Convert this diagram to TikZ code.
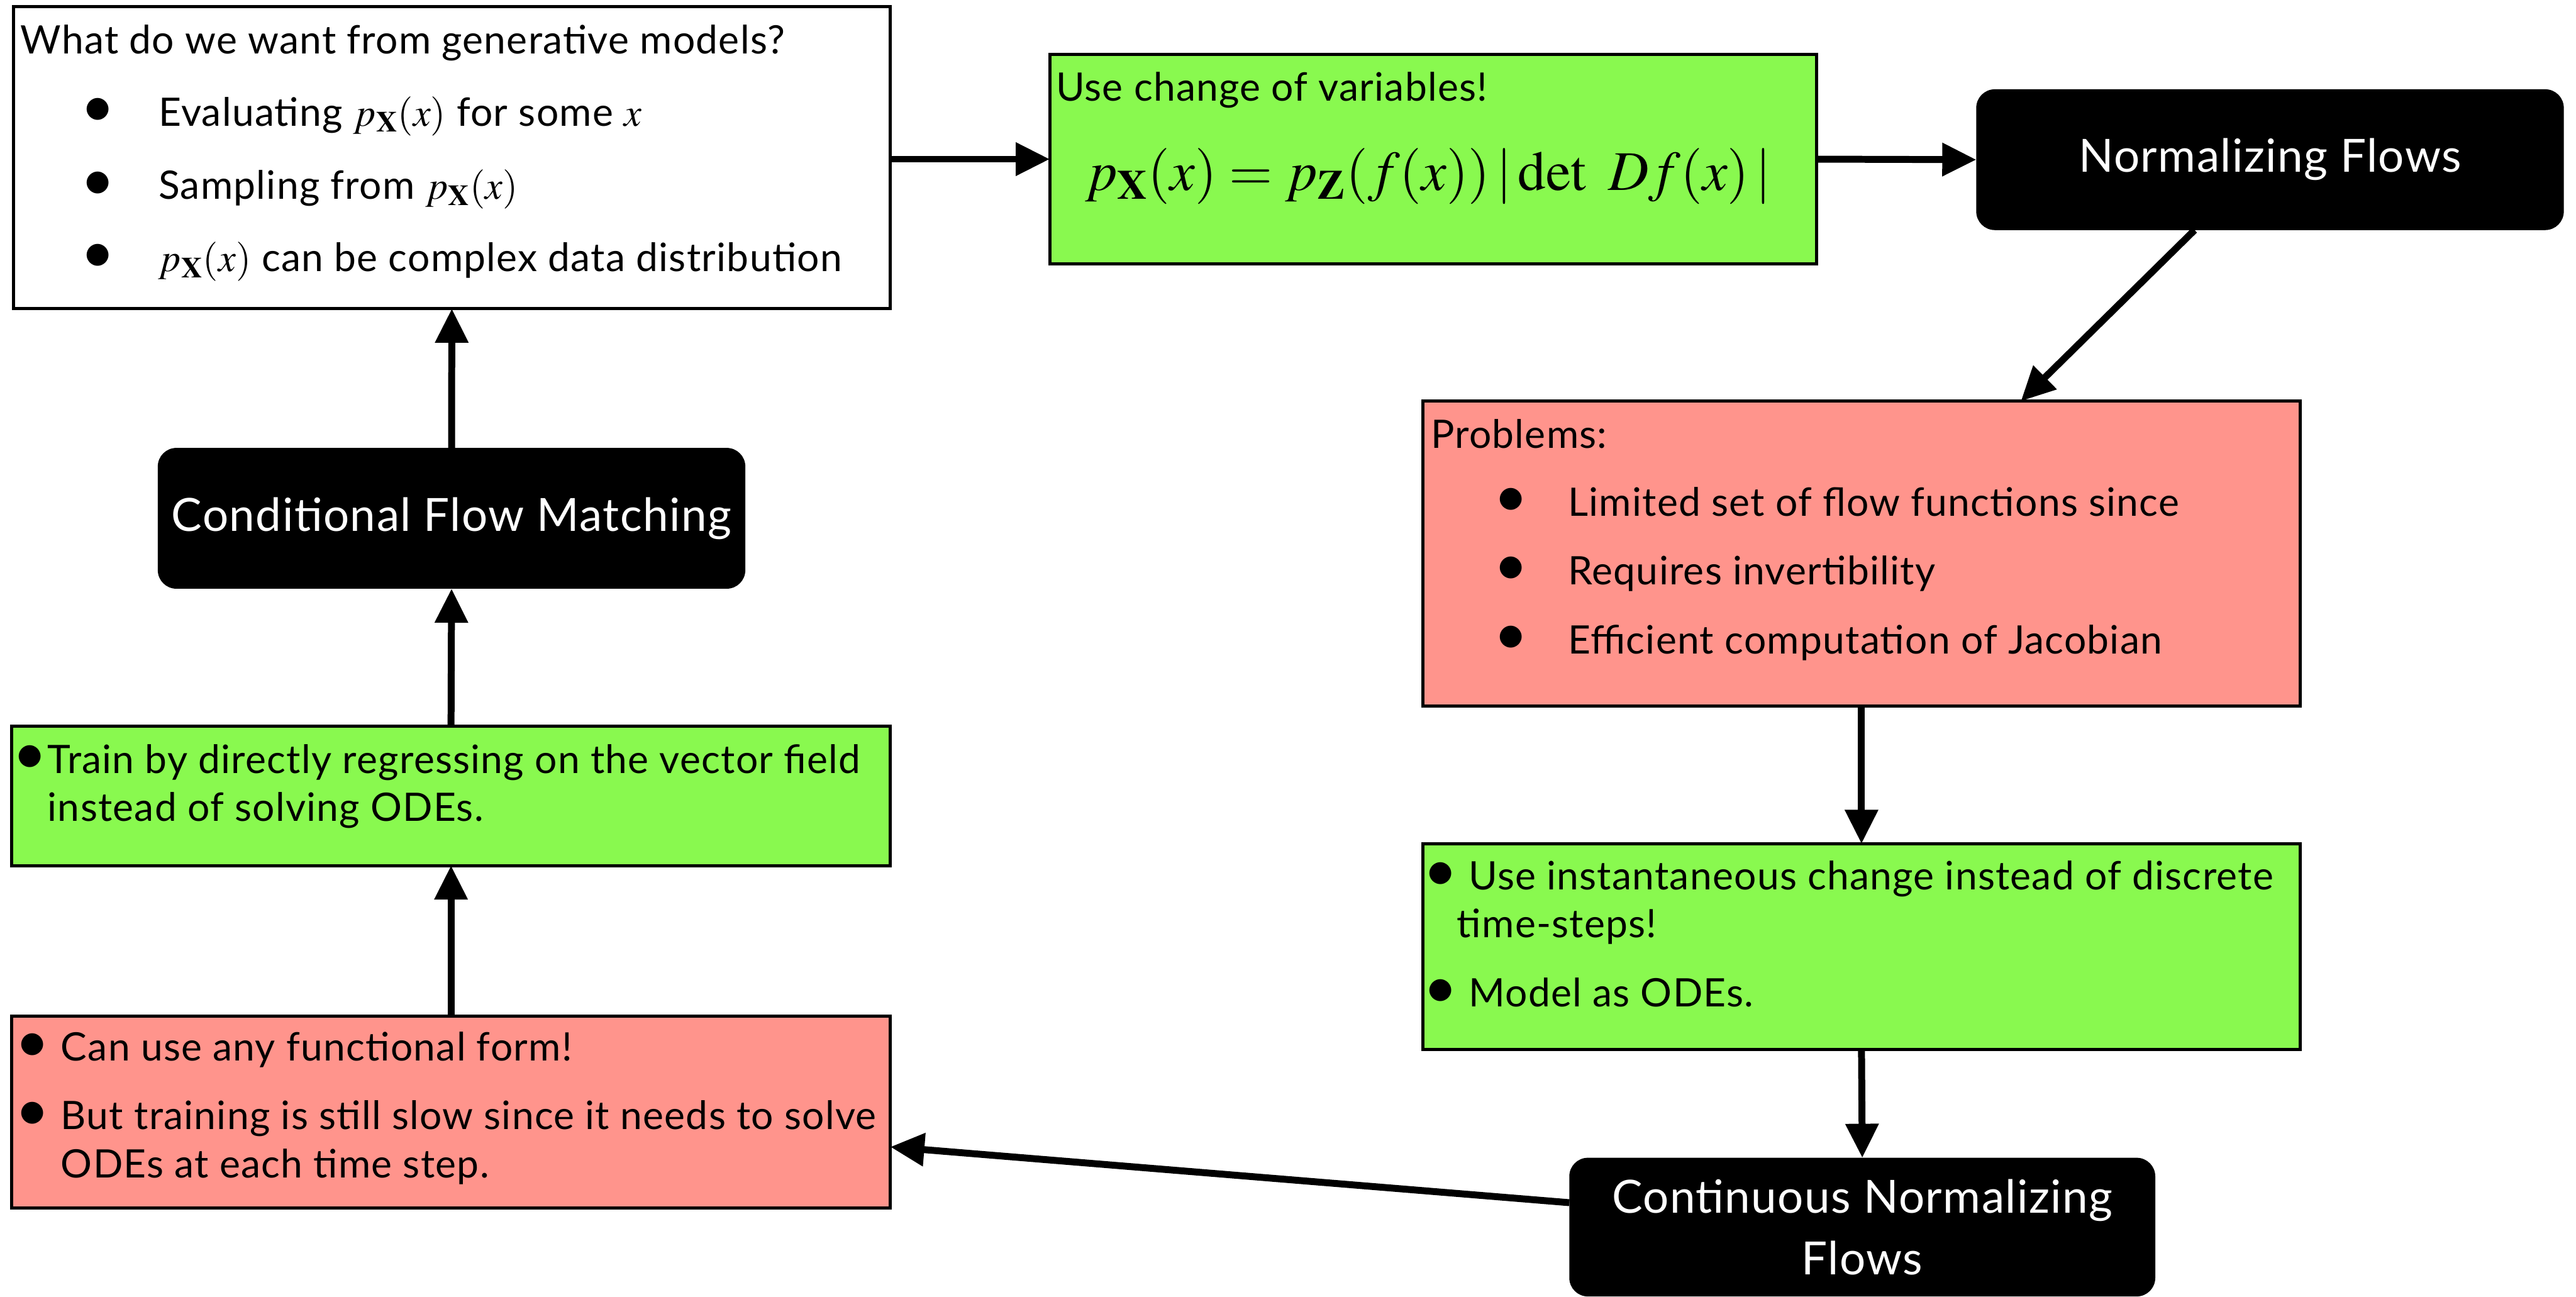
\documentclass[tikz,border=0pt]{standalone}
\usepackage{graphicx}
\usepackage{mathptmx}
\usepackage[no-math]{fontspec}
\setmainfont{Lato}[LetterSpace=2.0]
\usetikzlibrary{arrows.meta,calc}

\definecolor{boxgreen}{RGB}{137,249,79}
\definecolor{boxsalmon}{RGB}{255,148,140}

\newcommand\bodyfont{\fontsize{21pt}{24pt}\selectfont}
\newcommand\headfont{\fontsize{24.5pt}{33pt}\selectfont}
\newcommand\mathfont{\fontsize{30pt}{34pt}\selectfont}
\newcommand\itemdot{\raisebox{-0.02cm}{\scalebox{1.5}{\textbullet}}}
% bullet centred #1 to the left of where the item text begins
\newcommand\itemat[1]{\llap{\makebox[0pt][c]{\itemdot}\hspace{#1}}}

\tikzset{
  panel/.style={draw=black, line width=1.7pt, inner sep=0pt, outer sep=0pt},
  greenpanel/.style={panel, fill=boxgreen},
  redpanel/.style={panel, fill=boxsalmon},
  whitepanel/.style={panel, fill=white},
  darkpanel/.style={fill=black, rounded corners=0.35cm, text=white, inner sep=0pt,
    outer sep=0pt, font=\headfont, align=center},
  txt/.style={anchor=base west, inner sep=0pt, font=\bodyfont},
  arr/.style={line width=3.7pt, -{Triangle[length=0.64cm,width=0.6cm]}},
}

\begin{document}
\begin{tikzpicture}
\useasboundingbox (0,0) rectangle (48.49,-24.41);

% ---- panels ----
\node[whitepanel, minimum width=16.51cm, minimum height=5.69cm] (goal) at (8.505,-2.965) {};
\node[greenpanel, minimum width=14.44cm, minimum height=3.95cm] (cov) at (26.98,-2.995) {};
\node[darkpanel, minimum width=11.06cm, minimum height=2.65cm] (nf) at (42.73,-3.005) {Normalizing Flows};
\node[redpanel, minimum width=16.52cm, minimum height=5.74cm] (prob) at (35.04,-10.42) {};
\node[greenpanel, minimum width=16.52cm, minimum height=3.87cm] (inst) at (35.04,-17.815) {};
\node[darkpanel, minimum width=11.03cm, minimum height=2.61cm] (cnf) at (35.055,-23.095) {Continuous Normalizing\\Flows};
\node[redpanel, minimum width=16.54cm, minimum height=3.61cm] (anyf) at (8.49,-20.925) {};
\node[greenpanel, minimum width=16.54cm, minimum height=2.62cm] (regr) at (8.49,-14.98) {};
\node[darkpanel, minimum width=11.06cm, minimum height=2.65cm] (cfm) at (8.5,-9.755) {Conditional Flow Matching};

% ---- texts of the white panel ----
\node[txt] (goalT) at (0.38,-1.01) {What do we want from generative models?};
\node[txt] (goal1) at (2.98,-2.37) {\itemat{1.14cm}Evaluating $p_{\mathbf{X}}(x)$ for some $x$};
\node[txt] (goal2) at (2.98,-3.75) {\itemat{1.14cm}Sampling from $p_{\mathbf{X}}(x)$};
\node[txt] (goal3) at (2.98,-5.11) {\itemat{1.14cm}$p_{\mathbf{X}}(x)$ can be complex data distribution};

% ---- change of variables ----
\node[txt] (covT) at (19.87,-1.90) {Use change of variables!};
\node[txt, font=\mathfont] (covF) at (20.42,-3.58)
  {$p_{\mathbf{X}}(x) = p_{\mathbf{Z}}(f(x))\,|\det\ Df(x)\,|$};

% ---- problems ----
\node[txt] (probT) at (26.93,-8.43) {Problems:};
\node[txt] (prob1) at (29.51,-9.71) {\itemat{1.08cm}Limited set of flow functions since};
\node[txt] (prob2) at (29.51,-11.00) {\itemat{1.08cm}Requires invertibility};
\node[txt] (prob3) at (29.51,-12.30) {\itemat{1.08cm}Efficient computation of Jacobian};

% ---- instantaneous change ----
\node[txt] (inst1) at (27.64,-16.75) {\itemat{0.53cm}Use instantaneous change instead of discrete};
\node[txt] (inst1b) at (27.42,-17.65) {time-steps!};
\node[txt] (inst2) at (27.64,-18.95) {\itemat{0.53cm}Model as ODEs.};

% ---- regression ----
\node[txt] (regr1) at (0.89,-14.55) {\itemat{0.33cm}Train by directly regressing on the vector field};
\node[txt] (regr1b) at (0.89,-15.45) {instead of solving ODEs.};

% ---- any functional form ----
\node[txt] (anyf1) at (1.14,-19.97) {\itemat{0.54cm}Can use any functional form!};
\node[txt] (anyf2) at (1.14,-21.26) {\itemat{0.54cm}But training is still slow since it needs to solve};
\node[txt] (anyf2b) at (1.14,-22.17) {ODEs at each time step.};

% ---- connectors ----
\draw[arr] (goal.east |- cov.west) -- (cov.west);
\draw[arr] (cov.east) -- (nf.west);
\draw[arr] ($(nf.south)+(-1.42,0)$) -- ($(prob.north)+(3.0,0)$);
\draw[arr] (prob.south) -- (inst.north);
\draw[arr] (inst.south) -- (cnf.north);
\draw[arr] ($(cnf.west)+(0,0.46)$) -- ($(anyf.east)+(0,-0.66)$);
\draw[arr] (anyf.north) -- (regr.south);
\draw[arr] (regr.north) -- (cfm.south);
\draw[arr] (cfm.north) -- (goal.south);
\end{tikzpicture}
\end{document}
